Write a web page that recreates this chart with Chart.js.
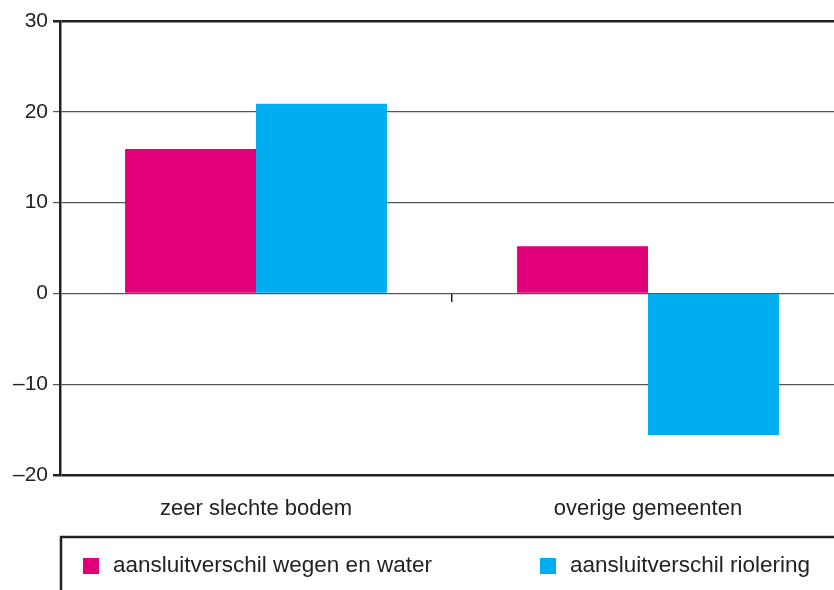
<!DOCTYPE html>
<html>
<head>
<meta charset="utf-8">
<script src="https://cdn.jsdelivr.net/npm/chart.js@4"></script>
<style>
  html, body { margin: 0; padding: 0; overflow: hidden; background: #fff; }
  #wrap { width: 850px; height: 590px; }
</style>
</head>
<body>
<div id="wrap"><canvas id="chart" width="850" height="590"></canvas></div>
<script>
const categories = ['zeer slechte bodem', 'overige gemeenten'];
const wegenWater = [15.9, 5.2];
const riolering = [20.9, -15.6];
const seriesNames = ['aansluitverschil wegen en water', 'aansluitverschil riolering'];
const yTicks = [-20, -10, 0, 10, 20, 30];

const FONT = "'Liberation Sans', Arial, sans-serif";
const TEXT = '#222';

// frame round the legend and the two legend items
const legendBox = {
    id: 'legendBox',
    afterDraw(chart) {
        const c = chart.ctx;
        const left = 61, top = 537;
        c.save();
        c.strokeStyle = '#222';
        c.lineWidth = 2.5;
        c.beginPath();
        c.moveTo(chart.width, top);
        c.lineTo(left, top);
        c.lineTo(left, chart.height + 2);
        c.stroke();

        const xs = [83, 540];
        c.font = '22.5px ' + FONT;
        c.textBaseline = 'middle';
        chart.data.datasets.forEach((ds, i) => {
            c.fillStyle = ds.backgroundColor;
            c.fillRect(xs[i], 558, 16, 16);
            c.fillStyle = TEXT;
            c.fillText(ds.label, xs[i] + 30, 566);
        });
        c.restore();
    }
};

new Chart(document.getElementById('chart'), {
    type: 'bar',
    data: {
        labels: categories,
        datasets: [
            { label: seriesNames[0], data: wegenWater, backgroundColor: '#E2007A' },
            { label: seriesNames[1], data: riolering, backgroundColor: '#00AEEF' }
        ]
    },
    options: {
        responsive: false,
        animation: false,
        devicePixelRatio: 1,
        layout: { padding: { top: 21, right: 6, bottom: 60, left: 0 } },
        datasets: { bar: { categoryPercentage: 0.668, barPercentage: 1 } },
        plugins: { legend: { display: false }, tooltip: { enabled: false } },
        scales: {
            x: {
                grid: { display: false },
                border: { display: false },
                ticks: { color: TEXT, font: { family: FONT, size: 22 }, padding: 13, maxRotation: 0 },
                afterFit(s) { s.height = 55; }
            },
            x2: {
                type: 'category',
                labels: categories,
                position: { y: 0 },
                offset: true,
                grid: { offset: true, drawOnChartArea: false, tickLength: 9, color: '#222', lineWidth: 1.5 },
                border: { display: false },
                ticks: { display: false }
            },
            y: {
                min: -20,
                max: 30,
                afterBuildTicks(s) { s.ticks = yTicks.map(v => ({ value: v })); },
                afterFit(s) { s.width = 60; },
                border: { color: '#222', width: 2.5 },
                grid: {
                    tickLength: 7,
                    color: ctx => (ctx.tick && (ctx.tick.value === 30 || ctx.tick.value === -20)) ? '#222' : '#555',
                    lineWidth: ctx => (ctx.tick && (ctx.tick.value === 30 || ctx.tick.value === -20)) ? 2.5 : 1.2
                },
                ticks: {
                    color: TEXT,
                    padding: 5,
                    font: { family: FONT, size: 21 },
                    callback: v => v < 0 ? '\u2013' + Math.abs(v) : String(v)
                }
            }
        }
    },
    plugins: [legendBox]
});
</script>
</body>
</html>
